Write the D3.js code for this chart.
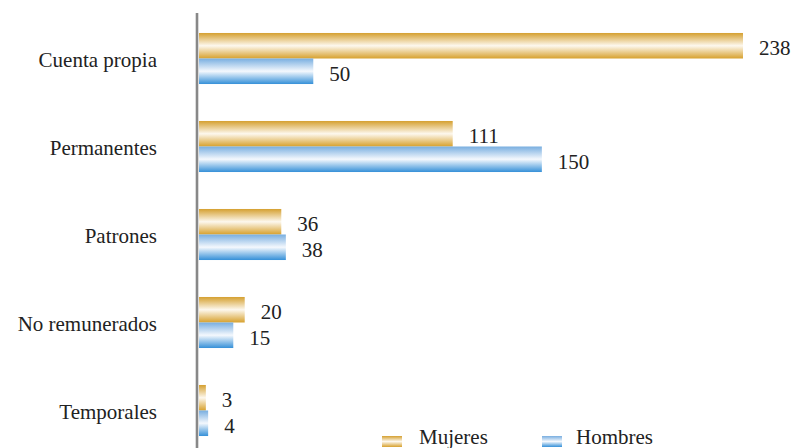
<!DOCTYPE html>
<meta charset="utf-8">
<style>

body {
  margin: 0;
  background: #fff;
}

text {
  font-family: "Liberation Serif", "Times New Roman", serif;
  font-size: 21px;
  fill: #222;
}

</style>
<svg></svg>
<script src="https://cdn.jsdelivr.net/npm/d3@7"></script>
<script>

var categories = ["Cuenta propia", "Permanentes", "Patrones", "No remunerados", "Temporales"];
var series = ["Mujeres", "Hombres"];
var mujeres = [238, 111, 36, 20, 3];
var hombres = [50, 150, 38, 15, 4];

var width = 801,
    height = 448;

var svg = d3.select("svg")
    .attr("width", width)
    .attr("height", height);

var defs = svg.append("defs");

function gradient(id, top, mid, bottom) {
  var g = defs.append("linearGradient")
      .attr("id", id)
      .attr("x1", 0).attr("y1", 0)
      .attr("x2", 0).attr("y2", 1);
  g.append("stop").attr("offset", "0%").attr("stop-color", top);
  g.append("stop").attr("offset", "50%").attr("stop-color", mid);
  g.append("stop").attr("offset", "100%").attr("stop-color", bottom);
}

gradient("gold", "#d5a030", "#fdf8ee", "#d7a12e");
gradient("blue", "#78aee0", "#f4f8fd", "#3590d8");

var fills = ["url(#gold)", "url(#blue)"];

var x = d3.scaleLinear()
    .domain([0, 238])
    .range([199, 743]);

var y = d3.scaleBand()
    .domain(categories)
    .range([14.5, 454.5])
    .paddingInner(0.42)
    .paddingOuter(0.21);

var y1 = d3.scaleBand()
    .domain(series)
    .range([0, y.bandwidth()]);

var data = categories.map(function(c, i) {
  return {category: c, values: [mujeres[i], hombres[i]]};
});

var group = svg.selectAll("g.cat")
    .data(data)
  .enter().append("g")
    .attr("class", "cat")
    .attr("transform", function(d) { return "translate(0," + y(d.category) + ")"; });

group.selectAll("rect")
    .data(function(d) { return d.values.map(function(v, j) { return {key: series[j], value: v, j: j}; }); })
  .enter().append("rect")
    .attr("x", x(0))
    .attr("y", function(d) { return y1(d.key); })
    .attr("width", function(d) { return x(d.value) - x(0); })
    .attr("height", y1.bandwidth())
    .attr("fill", function(d) { return fills[d.j]; });

group.selectAll("text.value")
    .data(function(d) { return d.values.map(function(v, j) { return {key: series[j], value: v}; }); })
  .enter().append("text")
    .attr("class", "value")
    .attr("x", function(d) { return x(d.value) + 16; })
    .attr("y", function(d) { return y1(d.key) + y1.bandwidth() / 2 + 2; })
    .attr("dy", "0.35em")
    .text(function(d) { return d.value; });

group.append("text")
    .attr("x", 157)
    .attr("y", y.bandwidth() / 2 + 1.5)
    .attr("dy", "0.35em")
    .attr("text-anchor", "end")
    .text(function(d) { return d.category; });

// vertical axis line
svg.append("line")
    .attr("x1", 197).attr("x2", 197)
    .attr("y1", 13).attr("y2", height)
    .attr("stroke", "#888")
    .attr("stroke-width", 2.6);

// legend
var legendX = [382, 542];
var legend = svg.selectAll("g.legend")
    .data(series)
  .enter().append("g")
    .attr("class", "legend")
    .attr("transform", function(d, i) { return "translate(" + legendX[i] + ",436)"; });

legend.append("rect")
    .attr("width", 20)
    .attr("height", 11)
    .attr("fill", function(d, i) { return fills[i]; });

legend.append("text")
    .attr("x", function(d, i) { return i ? 34 : 37; })
    .attr("y", 8)
    .text(function(d) { return d; });

</script>
